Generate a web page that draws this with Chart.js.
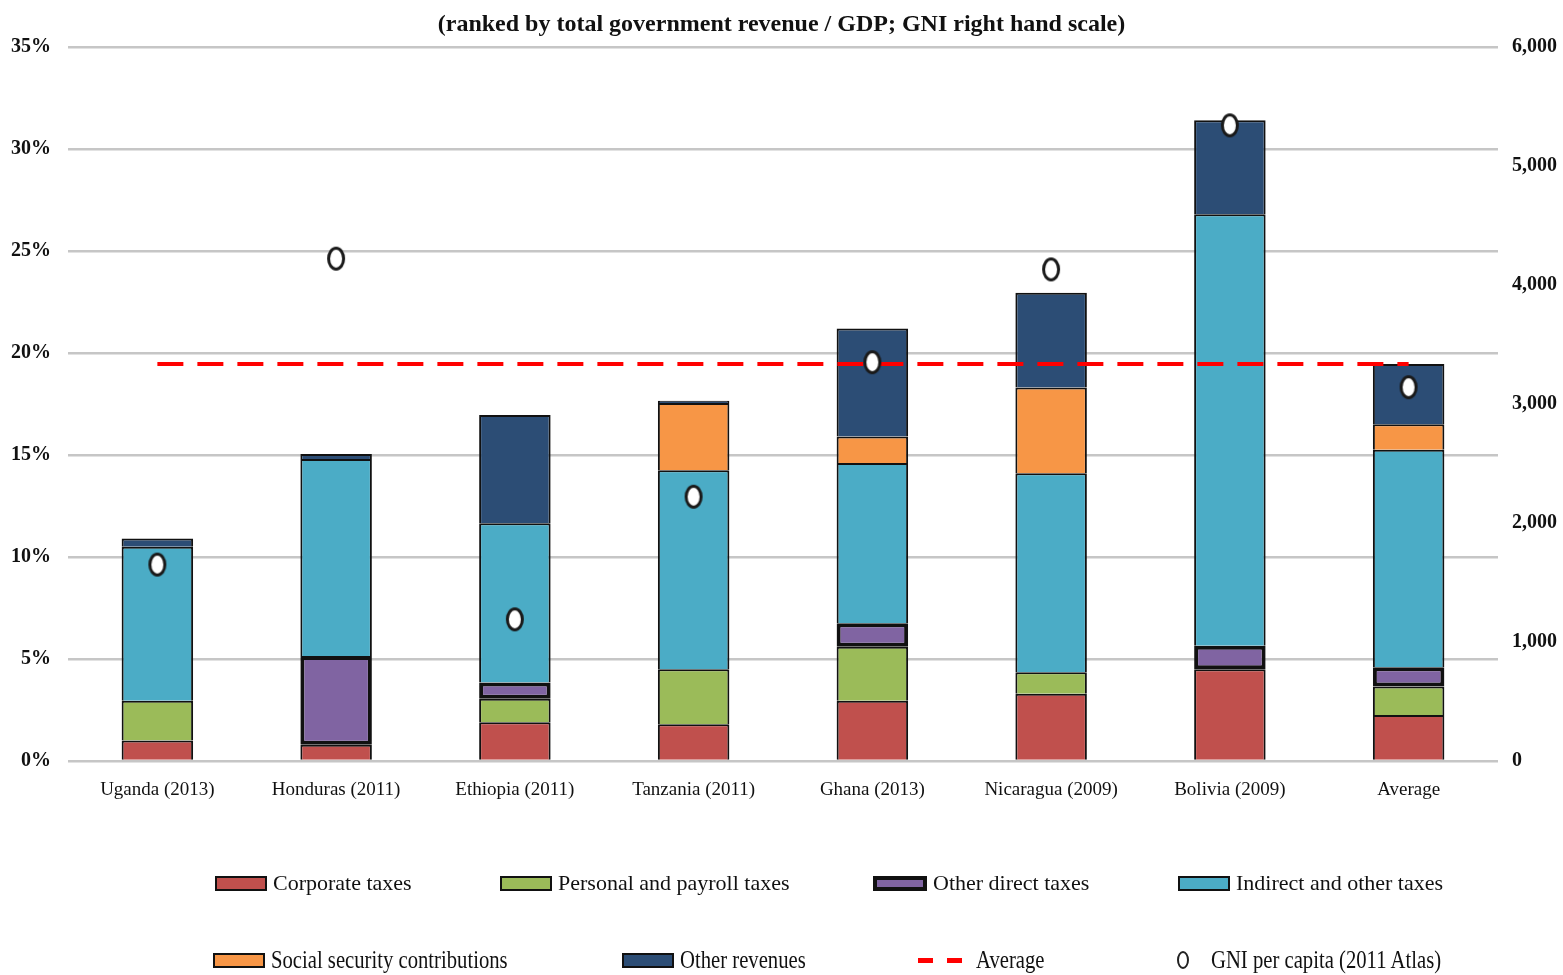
<!DOCTYPE html>
<html lang="en">
<head>
    <meta charset="UTF-8">
    <title>Government revenue composition</title>
    <script src="https://cdn.jsdelivr.net/npm/chart.js@4.4.0/dist/chart.umd.min.js"></script>
    <style>
        body {
            margin: 0;
            background: #fff;
        }
        .wrap {
            position: relative;
            width: 1563px;
            height: 975px;
        }
        .legend-item {
            position: absolute;
            display: flex;
            align-items: center;
            font-family: "Liberation Serif", serif;
            font-size: 22px;
            color: #111;
            white-space: nowrap;
        }
        .legend-item .box {
            width: 48px;
            height: 11px;
            border: 2px solid #111;
            margin-right: 6px;
        }
        .legend-item .box.thick {
            border-width: 4px;
            height: 7px;
            width: 46px;
        }
        .legend-item .label {
            display: inline-block;
            transform-origin: left center;
        }
        .row2 .label {
            transform: scale(0.94, 1.12);
        }
        .dash {
            display: inline-block;
            width: 15px;
            height: 5px;
            background: #ff0000;
            margin-right: 14px;
        }
        .oval {
            display: inline-block;
            width: 8px;
            height: 14px;
            border: 2px solid #222;
            border-radius: 50%;
            margin-right: 22px;
        }
    </style>
</head>
<body>
    <div class="wrap">
        <canvas id="revenueChart"></canvas>

        <div class="legend-item" style="left:215px; top:870px;">
            <span class="box" style="background:#c0504d"></span><span class="label">Corporate taxes</span>
        </div>
        <div class="legend-item" style="left:500px; top:870px;">
            <span class="box" style="background:#9bbb59"></span><span class="label">Personal and payroll taxes</span>
        </div>
        <div class="legend-item" style="left:873px; top:870px;">
            <span class="box thick" style="background:#8064a2"></span><span class="label">Other direct taxes</span>
        </div>
        <div class="legend-item" style="left:1178px; top:870px;">
            <span class="box" style="background:#4bacc6"></span><span class="label">Indirect and other taxes</span>
        </div>

        <div class="legend-item row2" style="left:213px; top:947px;">
            <span class="box" style="background:#f79646"></span><span class="label">Social security contributions</span>
        </div>
        <div class="legend-item row2" style="left:622px; top:947px;">
            <span class="box" style="background:#2c4d75"></span><span class="label">Other revenues</span>
        </div>
        <div class="legend-item row2" style="left:918px; top:947px;">
            <span class="dash"></span><span class="dash"></span><span class="label">Average</span>
        </div>
        <div class="legend-item row2" style="left:1177px; top:947px;">
            <span class="oval"></span><span class="label">GNI per capita (2011 Atlas)</span>
        </div>
    </div>

    <script>
        // Countries, ranked by total government revenue / GDP
        const countries = ['Uganda (2013)', 'Honduras (2011)', 'Ethiopia (2011)', 'Tanzania (2011)',
                           'Ghana (2013)', 'Nicaragua (2009)', 'Bolivia (2009)', 'Average'];

        // Revenue components, % of GDP
        const corporateTaxes   = [1.0, 0.8, 1.9, 1.8, 2.95, 3.3, 4.5, 2.25];
        const personalTaxes    = [1.95, null, 1.15, 2.7, 2.65, 1.05, null, 1.4];
        const otherDirectTaxes = [null, 4.35, 0.8, null, 1.15, null, 1.15, 0.95];
        const indirectTaxes    = [7.55, 9.65, 7.8, 9.75, 7.85, 9.75, 21.15, 10.65];
        const socialSecurity   = [null, null, null, 3.3, 1.3, 4.2, null, 1.25];
        const otherRevenues    = [0.4, 0.25, 5.3, 0.1, 5.3, 4.65, 4.6, 2.95];

        // Average total revenue / GDP (%)
        const averageRevenue = [19.45, 19.45, 19.45, 19.45, 19.45, 19.45, 19.45, 19.45];

        // GNI per capita, Atlas method (right hand scale)
        const gniPerCapita = [1650, 4220, 1190, 2220, 3350, 4130, 5340, 3140];

        const leftTicks = [0, 5, 10, 15, 20, 25, 30, 35];
        const rightTicks = [0, 1000, 2000, 3000, 4000, 5000, 6000];

        const serif = '"Liberation Serif", "Times New Roman", serif';

        // white oval marker for the GNI points
        function ovalMarker() {
            const c = document.createElement('canvas');
            c.width = 20;
            c.height = 26;
            const g = c.getContext('2d');
            g.beginPath();
            g.ellipse(10, 13, 7.5, 10.5, 0, 0, Math.PI * 2);
            g.fillStyle = '#ffffff';
            g.fill();
            g.lineWidth = 3;
            g.strokeStyle = '#1a1a1a';
            g.stroke();
            return c;
        }

        // segment outline: no bottom edge, so the segment below supplies the divider
        const thinEdge = { top: 2, left: 2, right: 2, bottom: 0 };
        const thickEdge = { top: 4, left: 4, right: 4, bottom: 4 };

        function barSet(label, data, color, border) {
            return {
                type: 'bar',
                label: label,
                data: data,
                backgroundColor: color,
                borderColor: '#111111',
                borderWidth: border,
                borderSkipped: false,
                yAxisID: 'y',
                stack: 'revenue',
                order: 2,
                barPercentage: 0.4,
                categoryPercentage: 1.0
            };
        }

        const ctx = document.getElementById('revenueChart').getContext('2d');
        const chart = new Chart(ctx, {
            data: {
                labels: countries,
                datasets: [
                    barSet('Corporate taxes', corporateTaxes, '#c0504d', thinEdge),
                    barSet('Personal and payroll taxes', personalTaxes, '#9bbb59', thinEdge),
                    barSet('Other direct taxes', otherDirectTaxes, '#8064a2', thickEdge),
                    barSet('Indirect and other taxes', indirectTaxes, '#4bacc6', thinEdge),
                    barSet('Social security contributions', socialSecurity, '#f79646', thinEdge),
                    barSet('Other revenues', otherRevenues, '#2c4d75', thinEdge),
                    {
                        type: 'line',
                        label: 'Average',
                        data: averageRevenue,
                        borderColor: '#ff0000',
                        borderWidth: 4,
                        borderDash: [26, 14],
                        pointRadius: 0,
                        fill: false,
                        yAxisID: 'y',
                        order: 1
                    },
                    {
                        type: 'line',
                        label: 'GNI per capita (2011 Atlas)',
                        data: gniPerCapita,
                        showLine: false,
                        pointStyle: ovalMarker(),
                        pointRadius: 10,
                        yAxisID: 'y1',
                        order: 0
                    }
                ]
            },
            options: {
                responsive: true,
                maintainAspectRatio: false,
                animation: false,
                layout: { padding: 0 },
                plugins: {
                    legend: { display: false },
                    tooltip: { enabled: false },
                    title: {
                        display: true,
                        text: '(ranked by total government revenue / GDP; GNI right hand scale)',
                        color: '#111',
                        font: { family: serif, size: 24, weight: 'bold' },
                        padding: { top: 10, bottom: 8 }
                    }
                },
                scales: {
                    x: {
                        stacked: true,
                        grid: { display: false, drawTicks: false },
                        border: { display: false },
                        ticks: {
                            color: '#111',
                            padding: 18,
                            maxRotation: 0,
                            font: { family: serif, size: 19 }
                        },
                        afterFit: scale => { scale.height = 214; }
                    },
                    y: {
                        stacked: true,
                        position: 'left',
                        min: 0,
                        max: 35,
                        afterBuildTicks: scale => {
                            scale.ticks = leftTicks.map(v => ({ value: v }));
                        },
                        grid: { color: '#c6c6c6', lineWidth: 2.5, drawTicks: false },
                        border: { display: false },
                        ticks: {
                            color: '#111',
                            padding: 17,
                            font: { family: serif, size: 20, weight: 'bold' },
                            callback: v => v + '%'
                        },
                        afterFit: scale => { scale.width = 68; }
                    },
                    y1: {
                        position: 'right',
                        min: 0,
                        max: 6000,
                        afterBuildTicks: scale => {
                            scale.ticks = rightTicks.map(v => ({ value: v }));
                        },
                        grid: { drawOnChartArea: false, drawTicks: false },
                        border: { display: false },
                        ticks: {
                            color: '#111',
                            padding: 14,
                            font: { family: serif, size: 20, weight: 'bold' },
                            callback: v => v.toLocaleString('en-US')
                        },
                        afterFit: scale => { scale.width = 65; }
                    }
                }
            }
        });
    </script>
</body>
</html>
